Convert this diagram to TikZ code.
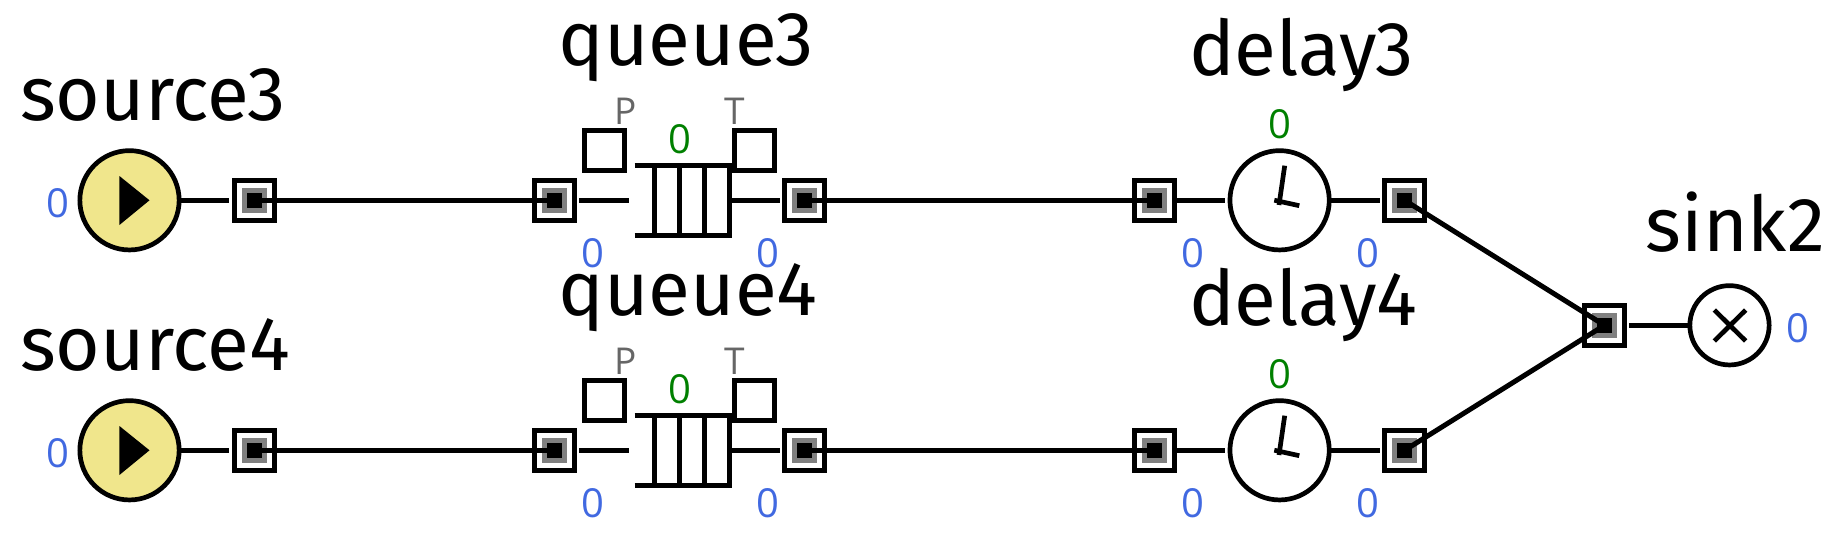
\documentclass[tikz,border=0pt]{standalone}
\usepackage{fontspec}
\setmainfont{Fira Sans}
\newfontfamily\cntfont{Open Sans}
\usetikzlibrary{calc}
\definecolor{srcfill}{HTML}{F0E68C}
\definecolor{cntblue}{HTML}{4169E1}
\definecolor{cntgreen}{HTML}{008000}
\definecolor{tagray}{HTML}{666666}
\tikzset{
  wire/.style={line width=5pt,line cap=butt},
  stubout/.style={wire,shorten >=2.5pt,shorten <=-1pt},
  portbox/.style={draw=black,fill=white,line width=4.7pt,minimum size=40pt,inner sep=0pt,rectangle},
  portgray/.style={fill=black!50,minimum size=25pt,inner sep=0pt,outer sep=0pt,rectangle},
  portcore/.style={fill=black,minimum size=15pt,inner sep=0pt,outer sep=0pt,rectangle},
  tagbox/.style={draw=black,line width=4.7pt,minimum size=40pt,inner sep=0pt,rectangle},
  bigcirc/.style={draw=black,line width=4.7pt,circle,minimum size=99.3pt,inner sep=0pt},
  sinkcirc/.style={draw=black,line width=4.7pt,circle,minimum size=79.3pt,inner sep=0pt},
  title/.style={font=\fontsize{76.5pt}{76.5pt}\selectfont,anchor=base west,inner sep=0pt,text=black},
  blue0/.style={font=\cntfont\fontsize{40pt}{40pt}\selectfont,anchor=base,inner sep=0pt,text=cntblue},
  green0/.style={font=\cntfont\fontsize{40pt}{40pt}\selectfont,anchor=base,inner sep=0pt,text=cntgreen},
  taglabel/.style={font=\cntfont\fontsize{37pt}{37pt}\selectfont,anchor=base,inner sep=0pt,text=tagray},
}
\newcommand{\portat}[2]{%
  \node[portbox] (#1) at (#2) {};
  \node[portgray] (#1g) at (#1.center) {};
  \node[portcore] (#1k) at (#1.center) {};
}
\newcommand{\netrow}[2]{%
\begin{scope}[shift={(0,#2)}]
  % source
  \node[title] (tsrc#1) at (20,120.7) {source#1};
  \node[bigcirc,fill=srcfill] (src#1) at (129.5,200.3) {};
  \fill (119.4,176) -- (149.5,200.3) -- (119.4,225) -- cycle;
  \node[blue0] (nsrc#1) at (57.8,217.9) {0};
  \portat{pa#1}{254.3,200.3}
  \portat{pb#1}{554.3,200.3}
  \draw[stubout] (src#1) -- (pa#1);
  \draw[wire] (pa#1.center) -- (pb#1.center);
  % queue
  \node[title] (tq#1) at (558.5,65.3) {queue#1};
  \node[tagbox] (boxp#1) at (604.7,150.5) {};
  \node[tagbox] (boxt#1) at (754.7,150.5) {};
  \node[taglabel] (lp#1) at (625.5,124) {P};
  \node[taglabel] (lt#1) at (734.5,124) {T};
  \node[green0] (nq#1) at (680,153.6) {0};
  \node[blue0] (nqa#1) at (593,267.9) {0};
  \node[blue0] (nqb#1) at (767.5,267.9) {0};
  \coordinate (qin#1) at (629.3,200.3);
  \coordinate (qout#1) at (731,200.3);
  \draw[wire] (634.7,165.5) -- (731.9,165.5);
  \draw[wire] (634.7,235.5) -- (731.9,235.5);
  \foreach \qx in {654.3,679.7,704.7,729.6} \draw[wire] (\qx,163) -- (\qx,238);
  \portat{pc#1}{804.5,200.3}
  \portat{pd#1}{1154.6,200.3}
  \draw[wire,shorten <=2.5pt] (pb#1) -- (qin#1);
  \draw[stubout,shorten <=0pt] (qout#1) -- (pc#1);
  \draw[wire] (pc#1.center) -- (pd#1.center);
  % delay
  \node[title] (td#1) at (1189,75) {delay#1};
  \node[bigcirc] (del#1) at (1279.6,200.3) {};
  \draw[line width=4.7pt] (1279,205) -- (1284.7,165.7);
  \draw[line width=4.7pt] (1274.3,200.2) -- (1299.3,205.7);
  \node[green0] (nd#1) at (1279.6,138) {0};
  \node[blue0] (nda#1) at (1192.5,267.9) {0};
  \node[blue0] (ndb#1) at (1367.5,267.9) {0};
  \portat{pe#1}{1404.6,200.3}
  \draw[stubout] (pd#1) -- (del#1);
  \draw[wire,shorten >=-1pt,shorten <=2.5pt] (pe#1) -- (del#1);
\end{scope}}
\begin{document}
\begin{tikzpicture}[x=1pt,y=-1pt]
  \useasboundingbox (0,0) rectangle (1829,543);
  \fill[white] (0,0) rectangle (1829,543);
  \netrow{3}{0}
  \netrow{4}{250}
  % sink
  \node[title] (tsink) at (1645.5,251) {sink2};
  \node[sinkcirc] (sink) at (1729.5,325.3) {};
  \draw[line width=4.7pt] (1714.3,310) -- (1745.7,341);
  \draw[line width=4.7pt] (1745.7,310) -- (1714.3,341);
  \node[blue0] (nsink) at (1797.5,342.9) {0};
  \portat{pf}{1604.5,325.3}
  \draw[wire,shorten <=2.5pt,shorten >=-1pt] (pf) -- (sink);
  \draw[wire] (pe3.center) -- (pf.center);
  \draw[wire] (pe4.center) -- (pf.center);
\end{tikzpicture}
\end{document}
